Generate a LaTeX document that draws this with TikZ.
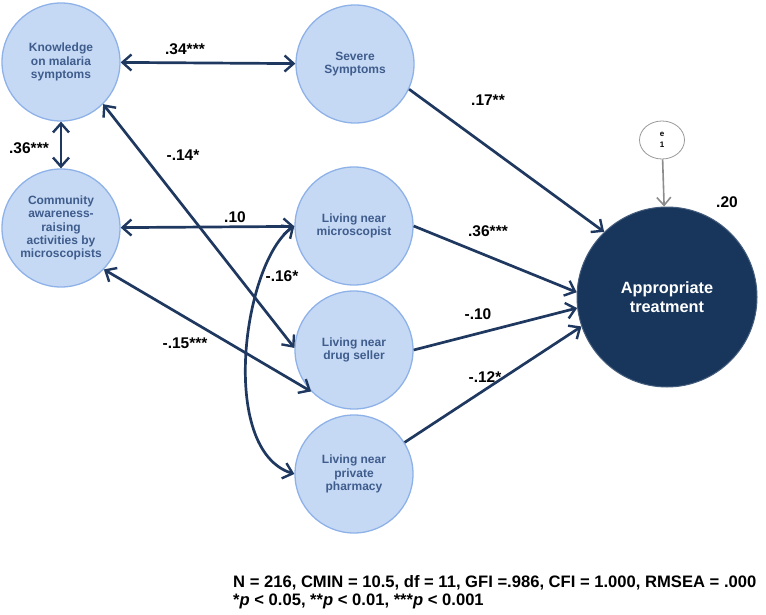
\documentclass[tikz,border=0pt]{standalone}
\usepackage{fontspec}
\setmainfont{Liberation Sans}
\usetikzlibrary{arrows.meta,shapes.geometric}
\definecolor{nodefill}{RGB}{198,217,244}
\definecolor{nodeline}{RGB}{142,178,232}
\definecolor{nodetext}{RGB}{62,92,140}
\definecolor{navy}{RGB}{31,56,96}
\definecolor{appfill}{RGB}{24,54,92}
\tikzset{
  latent/.style={circle, fill=nodefill, draw=nodeline, line width=1.3pt, minimum size=118pt, inner sep=0pt,
    align=center, text=nodetext, font=\fontsize{12}{13.3}\selectfont\bfseries},
  tipb/.tip={Straight Barb[length=9pt,width=16pt,line width=2.4pt]},
  conn/.style={draw=navy, line width=2.7pt},
  dbl/.style={conn, tipb-tipb},
  sgl/.style={conn, -tipb},
  lab/.style={font=\fontsize{15.5}{17}\selectfont\bfseries, text=black, inner sep=0pt}
}
\begin{document}
\begin{tikzpicture}[x=1pt,y=-1pt]
\useasboundingbox (0,0) rectangle (766,615);
\node[latent] (know) at (61,62) {Knowledge\\on malaria\\symptoms};
\node[latent] (comm) at (61,228) {Community\\awareness-\\raising\\activities by\\microscopists};
\node[latent] (sev) at (355,64) {Severe\\Symptoms};
\node[latent] (mic) at (354,226) {Living near\\microscopist};
\node[latent] (drug) at (354,350) {Living near\\drug seller};
\node[latent] (pharm) at (354,474) {Living near\\private\\pharmacy};
\node[circle, fill=appfill, draw=appfill!80!white, line width=1pt, minimum size=180pt, inner sep=0pt, align=center,
  text=white, font=\fontsize{16.3}{19.3}\selectfont\bfseries] (app) at (667,297) {Appropriate\\treatment};
\node[ellipse, draw=gray!80, fill=white, line width=0.8pt, minimum width=45pt, minimum height=38pt, inner sep=0pt,
  align=center, font=\fontsize{8}{11}\selectfont\bfseries] (e1) at (662,140) {e\\1};

\draw[draw=gray!90, line width=1.6pt, -{Straight Barb[length=8pt,width=14pt,line width=1.6pt]}] (e1) -- (app);

\draw[dbl] (know) -- (sev);
\draw[dbl] (know) -- (comm);
\draw[dbl] (comm) -- (mic);
\draw[dbl] (know.-45) -- (drug.178);
\draw[dbl] (comm.-44) -- (drug.224);
\draw[dbl] (mic.180) .. controls (243,262) and (218,450) .. (pharm.180);

\draw[sgl] (sev.-25) -- (app.134);
\draw[sgl] (mic.0) -- (app.177);
\draw[sgl] (drug.0) -- (app.187);
\draw[sgl] (pharm.32) -- (app.199);

\node[lab] (l1) at (185,49) {.34***};
\node[lab] (l2) at (29,148) {.36***};
\node[lab] (l3) at (183,155) {-.14*};
\node[lab] (l4) at (235,217) {.10};
\node[lab] (l5) at (282,276) {-.16*};
\node[lab] (l6) at (185,343) {-.15***};
\node[lab] (l7) at (488,100) {.17**};
\node[lab] (l8) at (488,231) {.36***};
\node[lab] (l9) at (478,314) {-.10};
\node[lab] (l10) at (485,377) {-.12*};
\node[lab] (l11) at (727,202) {.20};

\node[anchor=west, font=\fontsize{16.6}{18}\selectfont\bfseries, inner sep=0pt] (fit) at (233,583)
  {N = 216, CMIN = 10.5, df = 11, GFI =.986, CFI = 1.000, RMSEA = .000};
\node[anchor=west, font=\fontsize{16.6}{18}\selectfont\bfseries, inner sep=0pt] (sig) at (233,601)
  {*\textit{p} < 0.05, **\textit{p} < 0.01, ***\textit{p} < 0.001};
\end{tikzpicture}
\end{document}
